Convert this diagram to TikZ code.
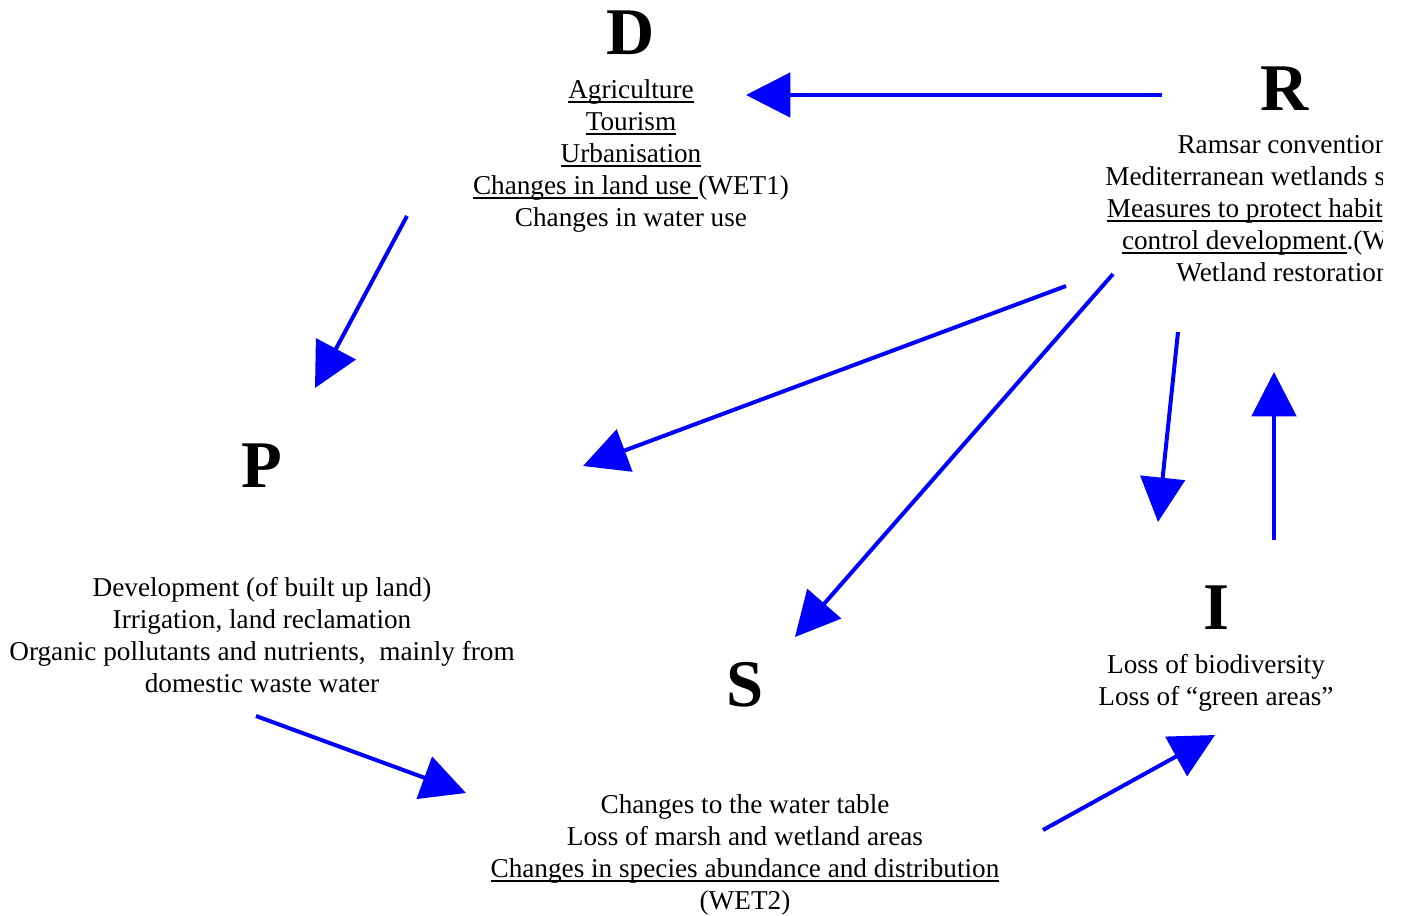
\documentclass[tikz,border=0pt]{standalone}
\usepackage{fontspec}
\setmainfont{Liberation Serif}
\usepackage{tikz}
\usetikzlibrary{arrows.meta}

% underline at a fixed depth
\newsavebox\ulnbox
\newcommand\uln[1]{\sbox\ulnbox{#1}\rlap{\rule[-1.9pt]{\wd\ulnbox}{0.6pt}}\usebox\ulnbox}

\begin{document}
\begin{tikzpicture}[x=0.45pt,y=-0.45pt,
    letter/.style={inner sep=0pt, font=\fontsize{30}{30}\selectfont\bfseries},
    body/.style={inner sep=0pt, anchor=north, align=center, font=\fontsize{12.25}{14.4}\selectfont},
    flow/.style={draw=blue, line width=1.8pt, -{Triangle[length=20pt,width=20pt]}}]

\useasboundingbox (0,0) rectangle (1402,915);

% Letters
\node[letter] (D) at (631,33) {D};
\node[letter] (P) at (262,466) {P};
\node[letter] (S) at (745,685) {S};
\node[letter] (I) at (1216,608) {I};
\node[letter] (R) at (1285,89) {R};

% Texts
\node[body] (Dtxt) at (631,79) {\uln{Agriculture}\\ \uln{Tourism}\\ \uln{Urbanisation}\\
    \uln{Changes in land use\ }(WET1)\\ Changes in water use};
\node[body] (Ptxt) at (262,577) {Development (of built up land)\\ Irrigation, land reclamation\\
    Organic pollutants and nutrients,\ \ mainly from\\ domestic waste water};
\node[body] (Stxt) at (745,794) {Changes to the water table\\ Loss of marsh and wetland areas\\
    \uln{Changes in species abundance and distribution}\\ (WET2)};
\node[body] (Itxt) at (1216,654) {Loss of biodiversity\\ Loss of ``green areas''};
\begin{scope}
\clip (0,0) rectangle (1382,915);
\node[body] (Rtxt) at (1283,135) {Ramsar convention\\ Mediterranean wetlands strategy\\
    \uln{Measures to protect habitats and}\\ \uln{control development}.(WET3)\\ Wetland restoration};
\end{scope}

% Arrow ends
\coordinate (RD-a) at (1162,95);  \coordinate (RD-b) at (746,95);
\coordinate (DP-a) at (407,216);  \coordinate (DP-b) at (315,388);
\coordinate (RP-a) at (1066,286); \coordinate (RP-b) at (583,466);
\coordinate (RS-a) at (1113,274); \coordinate (RS-b) at (795,637);
\coordinate (RI-a) at (1178,332); \coordinate (RI-b) at (1158,522);
\coordinate (IR-a) at (1274,540); \coordinate (IR-b) at (1274,372);
\coordinate (PS-a) at (256,716);  \coordinate (PS-b) at (466,793);
\coordinate (SI-a) at (1043,830); \coordinate (SI-b) at (1215,735);

% Arrows
\draw[flow] (RD-a) -- (RD-b);
\draw[flow] (DP-a) -- (DP-b);
\draw[flow] (RP-a) -- (RP-b);
\draw[flow] (RS-a) -- (RS-b);
\draw[flow] (RI-a) -- (RI-b);
\draw[flow] (IR-a) -- (IR-b);
\draw[flow] (PS-a) -- (PS-b);
\draw[flow] (SI-a) -- (SI-b);

\end{tikzpicture}
\end{document}
